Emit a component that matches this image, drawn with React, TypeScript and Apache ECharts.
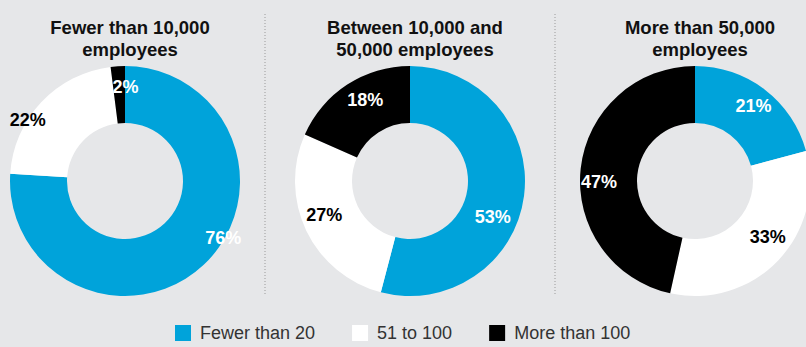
import React, { useEffect, useRef } from "react";
import * as echarts from "echarts";

const segments = ["Fewer than 20", "51 to 100", "More than 100"];
const groupTitles = [
  "Fewer than 10,000\nemployees",
  "Between 10,000 and\n50,000 employees",
  "More than 50,000\nemployees",
];
const smallCompanies = [76, 22, 2];
const midCompanies = [53, 27, 18];
const largeCompanies = [21, 33, 47];
const allGroups = [smallCompanies, midCompanies, largeCompanies];

// styling
const colors = ["#00a3da", "#ffffff", "#000000"];
const labelColors = ["#ffffff", "#000000", "#ffffff"];
const centersX = [125, 410, 695];
const labelOffsets = [
  [[37, -8], [-32, 0], [6, -5]],
  [[-6, 25], [-5, -5], [4, -6]],
  [[4, -4], [8, -6], [-7, 11]],
];

export default function App() {
  const ref = useRef<HTMLDivElement>(null);
  useEffect(() => {
    document.body.style.margin = "0";
    const chart = echarts.init(ref.current!, undefined, { renderer: "svg" });
    const font = "'Liberation Sans', Arial, Helvetica, sans-serif";
    chart.setOption({
      animation: false,
      backgroundColor: "#e6e7e9",
      textStyle: { fontFamily: font },
      title: groupTitles.map((t, i) => ({
        text: t,
        left: centersX[i],
        top: 11,
        textAlign: "center",
        textStyle: {
          fontFamily: font,
          fontSize: 18.5,
          fontWeight: "bold",
          color: "#111",
          lineHeight: 22,
        },
      })),
      legend: {
        left: 170,
        top: 319,
        icon: "rect",
        itemWidth: 16,
        itemHeight: 16,
        itemGap: 37,
        data: segments,
        textStyle: {
          fontFamily: font,
          fontSize: 18,
          color: "#333",
          padding: [0, 0, 0, 4],
        },
      },
      graphic: [265, 555].map((x) => ({
        type: "line",
        shape: { x1: x, y1: 14, x2: x, y2: 295 },
        style: { stroke: "#9a9a9a", lineWidth: 1, lineDash: [1, 2] },
        silent: true,
      })),
      series: allGroups.map((vals, gi) => ({
        type: "pie",
        center: [centersX[gi], 181],
        radius: [58, 115],
        startAngle: 90,
        clockwise: true,
        avoidLabelOverlap: false,
        labelLine: { show: false },
        label: {
          show: true,
          position: "inside",
          formatter: "{c}%",
          fontFamily: font,
          fontSize: 18,
          fontWeight: "bold",
        },
        emphasis: { disabled: true },
        data: vals.map((v, i) => ({
          name: segments[i],
          value: v,
          itemStyle: { color: colors[i] },
          label: { color: labelColors[i], offset: labelOffsets[gi][i] },
        })),
      })),
    });
    return () => chart.dispose();
  }, []);
  return <div ref={ref} style={{ width: 806, height: 347 }} />;
}
